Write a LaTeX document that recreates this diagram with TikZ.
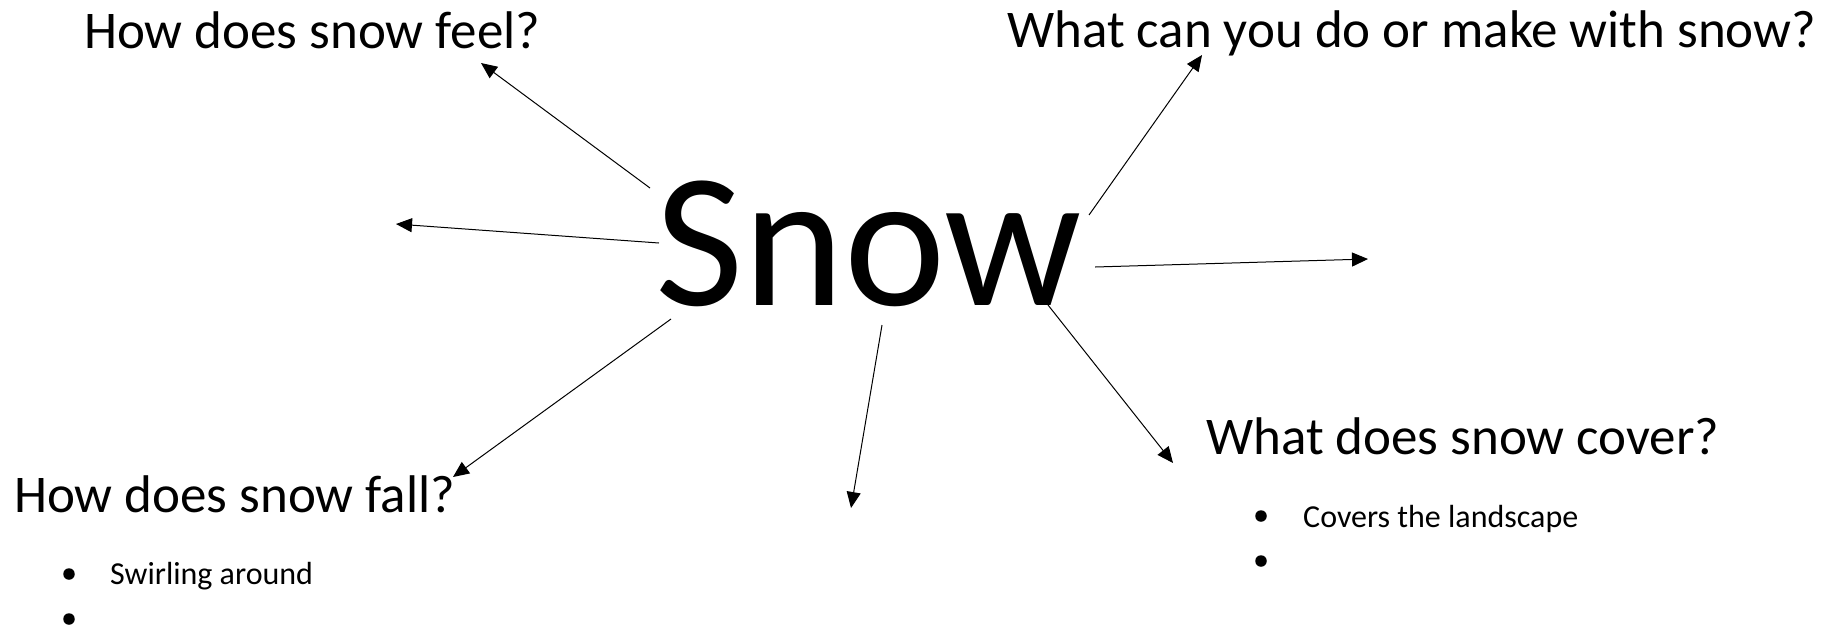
\documentclass[tikz,border=0pt]{standalone}
\usepackage{fontspec}
\setmainfont{Carlito}
\usetikzlibrary{arrows.meta}
\begin{document}
\begin{tikzpicture}[x=1pt,y=-1pt,
  head/.style={anchor=base west, inner sep=0pt, font=\fontsize{53}{60}\selectfont},
  itemtext/.style={anchor=base west, inner sep=0pt, font=\fontsize{32}{36}\selectfont},
  bul/.style={circle, fill=black, inner sep=0pt, minimum size=11.5pt},
  conn/.style={line width=1pt, -{Triangle[length=16pt,width=14pt]}}]
\useasboundingbox (0,0) rectangle (1838,625);
\node[anchor=base west, inner sep=0pt, font=\fontsize{192}{200}\selectfont] (snow) at (655,305) {Snow};
\node[head] (feel) at (84,48) {How does snow feel?};
\node[head] (make) at (1007,47) {What can you do or make with snow?};
\node[head] (cover) at (1206,454) {What does snow cover?};
\node[head] (fall) at (14,512) {How does snow fall?};
\node[bul] (b1) at (69,574) {};
\node[bul] (b2) at (69,619) {};
\node[itemtext] (t1) at (110,584) {Swirling around};
\node[bul] (b3) at (1261,516) {};
\node[bul] (b4) at (1261,561) {};
\node[itemtext] (t3) at (1303,527) {Covers the landscape};
\coordinate (s1) at (650,188); \coordinate (e1) at (481,63);
\coordinate (s2) at (659,243); \coordinate (e2) at (396,224);
\coordinate (s3) at (1089,215); \coordinate (e3) at (1202,55);
\coordinate (s4) at (1095,267); \coordinate (e4) at (1368,259);
\coordinate (s5) at (1048,305); \coordinate (e5) at (1173,463);
\coordinate (s6) at (671,319); \coordinate (e6) at (453,477);
\coordinate (s7) at (882,325); \coordinate (e7) at (851,508);
\draw[conn] (s1) -- (e1);
\draw[conn] (s2) -- (e2);
\draw[conn] (s3) -- (e3);
\draw[conn] (s4) -- (e4);
\draw[conn] (s5) -- (e5);
\draw[conn] (s6) -- (e6);
\draw[conn] (s7) -- (e7);
\end{tikzpicture}
\end{document}
